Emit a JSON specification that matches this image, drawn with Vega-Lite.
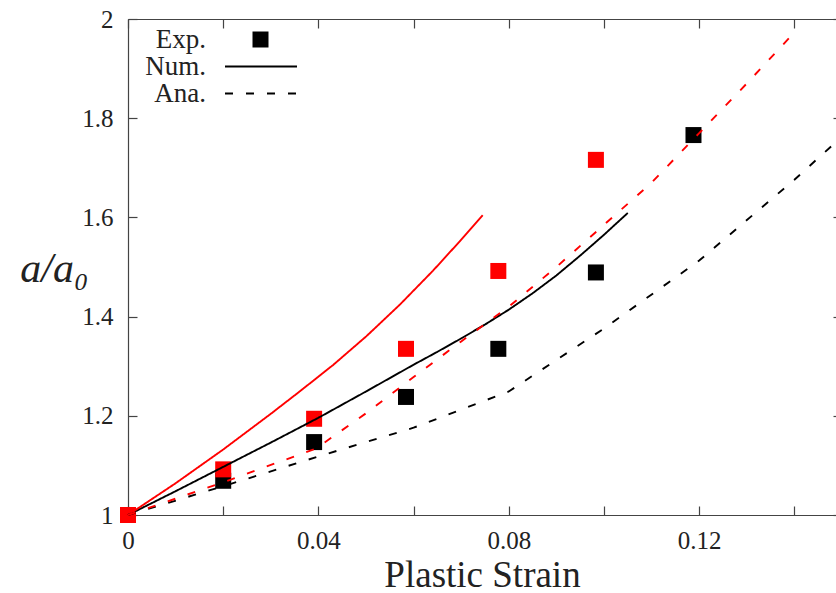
{
  "$schema": "https://vega.github.io/schema/vega-lite/v6.json",
  "width": 708,
  "height": 496,
  "autosize": {"type": "none"},
  "padding": {"left": 128, "top": 19, "right": 0, "bottom": 78},
  "background": "white",
  "config": {
    "font": "Liberation Serif",
    "view": {"stroke": null},
    "axis": {
      "grid": false,
      "labelFont": "Liberation Serif",
      "labelFontSize": 25,
      "labelColor": "#222",
      "domainColor": "#444",
      "tickColor": "#444",
      "domainWidth": 1.2,
      "tickWidth": 1.2,
      "titleFont": "Liberation Serif",
      "titleFontWeight": "normal",
      "titleColor": "#222",
      "labelOverlap": false,
      "labelFlush": false
    },
    "legend": {
      "labelFont": "Liberation Serif",
      "labelFontSize": 27,
      "labelColor": "#222",
      "labelAlign": "right",
      "padding": 0
    }
  },
  "data": {
    "values": [
      {"x": 0, "y": 1.0, "c": "black", "k": "Exp."},
      {"x": 0.02, "y": 1.069, "c": "black", "k": "Exp."},
      {"x": 0.0391, "y": 1.147, "c": "black", "k": "Exp."},
      {"x": 0.0584, "y": 1.238, "c": "black", "k": "Exp."},
      {"x": 0.0778, "y": 1.335, "c": "black", "k": "Exp."},
      {"x": 0.0983, "y": 1.489, "c": "black", "k": "Exp."},
      {"x": 0.1188, "y": 1.766, "c": "black", "k": "Exp."},
      {"x": 0, "y": 1.0, "c": "red", "k": "Exp."},
      {"x": 0.02, "y": 1.092, "c": "red", "k": "Exp."},
      {"x": 0.0391, "y": 1.194, "c": "red", "k": "Exp."},
      {"x": 0.0584, "y": 1.335, "c": "red", "k": "Exp."},
      {"x": 0.0778, "y": 1.492, "c": "red", "k": "Exp."},
      {"x": 0.0983, "y": 1.716, "c": "red", "k": "Exp."},

      {"x": 0, "y": 1.0, "c": "black", "k": "Num."},
      {"x": 0.01, "y": 1.048, "c": "black", "k": "Num."},
      {"x": 0.02, "y": 1.097, "c": "black", "k": "Num."},
      {"x": 0.03, "y": 1.146, "c": "black", "k": "Num."},
      {"x": 0.04, "y": 1.196, "c": "black", "k": "Num."},
      {"x": 0.05, "y": 1.249, "c": "black", "k": "Num."},
      {"x": 0.06, "y": 1.303, "c": "black", "k": "Num."},
      {"x": 0.065, "y": 1.329, "c": "black", "k": "Num."},
      {"x": 0.07, "y": 1.356, "c": "black", "k": "Num."},
      {"x": 0.075, "y": 1.384, "c": "black", "k": "Num."},
      {"x": 0.08, "y": 1.414, "c": "black", "k": "Num."},
      {"x": 0.085, "y": 1.447, "c": "black", "k": "Num."},
      {"x": 0.09, "y": 1.483, "c": "black", "k": "Num."},
      {"x": 0.095, "y": 1.523, "c": "black", "k": "Num."},
      {"x": 0.1, "y": 1.565, "c": "black", "k": "Num."},
      {"x": 0.105, "y": 1.609, "c": "black", "k": "Num."},
      {"x": 0, "y": 1.0, "c": "red", "k": "Num."},
      {"x": 0.01, "y": 1.064, "c": "red", "k": "Num."},
      {"x": 0.02, "y": 1.132, "c": "red", "k": "Num."},
      {"x": 0.03, "y": 1.204, "c": "red", "k": "Num."},
      {"x": 0.0361, "y": 1.2493, "c": "red", "k": "Num."},
      {"x": 0.0431, "y": 1.3025, "c": "red", "k": "Num."},
      {"x": 0.0501, "y": 1.3606, "c": "red", "k": "Num."},
      {"x": 0.0571, "y": 1.424, "c": "red", "k": "Num."},
      {"x": 0.0641, "y": 1.4928, "c": "red", "k": "Num."},
      {"x": 0.0697, "y": 1.5518, "c": "red", "k": "Num."},
      {"x": 0.0745, "y": 1.6044, "c": "red", "k": "Num."},

      {"x": 0, "y": 1.0, "c": "black", "k": "Ana."},
      {"x": 0.02, "y": 1.058, "c": "black", "k": "Ana."},
      {"x": 0.04, "y": 1.118, "c": "black", "k": "Ana."},
      {"x": 0.06, "y": 1.176, "c": "black", "k": "Ana."},
      {"x": 0.08, "y": 1.249, "c": "black", "k": "Ana."},
      {"x": 0.1, "y": 1.376, "c": "black", "k": "Ana."},
      {"x": 0.12, "y": 1.513, "c": "black", "k": "Ana."},
      {"x": 0.14, "y": 1.676, "c": "black", "k": "Ana."},
      {"x": 0.14874, "y": 1.752, "c": "black", "k": "Ana."},
      {"x": 0, "y": 1.0, "c": "red", "k": "Ana."},
      {"x": 0.02, "y": 1.066, "c": "red", "k": "Ana."},
      {"x": 0.0395, "y": 1.134, "c": "red", "k": "Ana."},
      {"x": 0.05, "y": 1.205, "c": "red", "k": "Ana."},
      {"x": 0.06, "y": 1.278, "c": "red", "k": "Ana."},
      {"x": 0.07, "y": 1.35, "c": "red", "k": "Ana."},
      {"x": 0.08, "y": 1.42, "c": "red", "k": "Ana."},
      {"x": 0.09, "y": 1.5, "c": "red", "k": "Ana."},
      {"x": 0.1, "y": 1.585, "c": "red", "k": "Ana."},
      {"x": 0.11, "y": 1.67, "c": "red", "k": "Ana."},
      {"x": 0.12, "y": 1.77, "c": "red", "k": "Ana."},
      {"x": 0.13, "y": 1.87, "c": "red", "k": "Ana."},
      {"x": 0.1401, "y": 1.974, "c": "red", "k": "Ana."}
    ]
  },
  "layer": [
    {
      "transform": [{"filter": "datum.k === 'Exp.'"}],
      "mark": {"type": "point", "filled": true, "opacity": 1, "size": 256, "strokeWidth": 0},
      "encoding": {
        "x": {
          "field": "x", "type": "quantitative",
          "scale": {"domain": [0, 0.14874], "nice": false, "zero": false},
          "axis": {
            "orient": "bottom",
            "values": [0, 0.02, 0.04, 0.06, 0.08, 0.1, 0.12, 0.14],
            "labelExpr": "round(datum.value*100) % 4 == 0 ? (datum.value == 0 ? '0' : format(datum.value, '.2f')) : ''",
            "tickSize": -9,
            "labelPadding": 22,
            "title": "Plastic Strain",
            "titleFontSize": 37,
            "titleY": 71,
            "titleBaseline": "alphabetic"
          }
        },
        "y": {
          "field": "y", "type": "quantitative",
          "scale": {"domain": [1, 2], "nice": false, "zero": false},
          "axis": {
            "orient": "left",
            "values": [1, 1.2, 1.4, 1.6, 1.8, 2],
            "format": "~g",
            "tickSize": -9,
            "labelPadding": 24,
            "title": "a/a₀",
            "titleAngle": 0,
            "titleX": -74,
            "titleY": 249,
            "titleAlign": "center",
            "titleBaseline": "middle",
            "titleFontStyle": "italic",
            "titleFontSize": 42
          }
        },
        "color": {
          "field": "c", "type": "nominal",
          "scale": {"domain": ["black", "red"], "range": ["#000000", "#ff0000"]},
          "legend": null
        },
        "shape": {
          "field": "k", "type": "nominal",
          "scale": {"domain": ["Exp."], "range": ["square"]},
          "legend": {
            "orient": "none",
            "legendX": 0,
            "legendY": 7,
            "title": null,
            "symbolSize": 256,
            "symbolStrokeWidth": 0,
            "symbolFillColor": "#000000",
            "symbolStrokeColor": "#000000",
            "symbolOpacity": 1,
            "symbolOffset": 119,
            "labelOffset": -68,
            "labelAlign": "right"
          }
        }
      }
    },
    {
      "transform": [{"filter": "datum.k !== 'Exp.'"}],
      "mark": {"type": "line", "strokeWidth": 1.9},
      "encoding": {
        "x": {
          "field": "x", "type": "quantitative",
          "axis": {
            "orient": "top",
            "values": [0, 0.02, 0.04, 0.06, 0.08, 0.1, 0.12, 0.14],
            "labels": false,
            "tickSize": -9,
            "title": null
          }
        },
        "y": {
          "field": "y", "type": "quantitative",
          "axis": {
            "orient": "right",
            "values": [1, 1.2, 1.4, 1.6, 1.8, 2],
            "labels": false,
            "domain": false,
            "tickSize": -3,
            "title": null
          }
        },
        "color": {"field": "c", "type": "nominal", "legend": null},
        "strokeDash": {
          "field": "k", "type": "nominal",
          "scale": {"domain": ["Num.", "Ana."], "range": [[1, 0], [8, 13]]},
          "legend": {
            "orient": "none",
            "legendX": 0,
            "legendY": 34,
            "title": null,
            "symbolType": "M-4.8,0H4.8",
            "symbolSize": 225,
            "symbolStrokeWidth": 2,
            "symbolStrokeColor": "#000000",
            "symbolFillColor": "transparent",
            "symbolOpacity": 1,
            "symbolOffset": 119.5,
            "labelOffset": -68.5,
            "labelAlign": "right",
            "rowPadding": -1
          }
        }
      }
    }
  ],
  "resolve": {"axis": {"x": "independent", "y": "independent"}}
}
